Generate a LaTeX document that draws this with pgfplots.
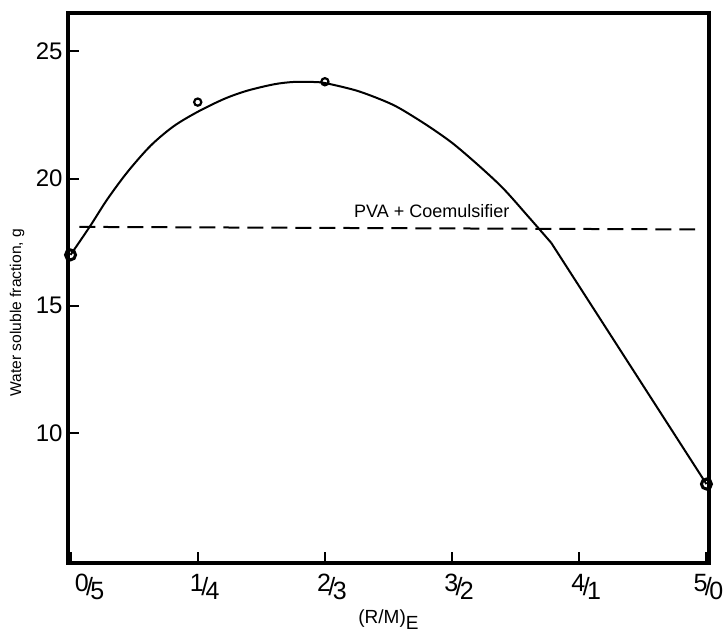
\documentclass[border=0pt]{standalone}
\usepackage{pgfplots}
\pgfplotsset{compat=1.18}
\usepackage{fontspec}
\setmainfont{Liberation Sans}

% ratio labels written as raised numerator / lowered denominator
\newcommand{\frc}[2]{\raisebox{2pt}{#1}\kern-1.3pt/\kern-1.3pt\raisebox{-2pt}{#2}}

\begin{document}
\begin{tikzpicture}
\begin{axis}[
  scale only axis,
  width=320.5pt, height=275pt,
  xmin=-0.02, xmax=5.02,
  ymin=4.9, ymax=26.5,
  clip=false,
  axis line style={line width=2.2pt},
  tick align=inside,
  xtick pos=left, ytick pos=left,
  major tick length=5.5pt,
  every tick/.style={black, line width=1pt},
  xtick={0,1,2,3,4,5},
  xticklabels={\hspace*{12pt}\frc05,\frc14,\frc23,\frc32,\frc41,\frc50\hspace*{5pt}},
  xticklabel style={font=\fontsize{12.5}{15}\selectfont, xshift=3.5pt, yshift=-2pt},
  ytick={10,15,20,25},
  /pgf/number format/assume math mode=true,
  yticklabel style={font=\fontsize{12}{14}\selectfont, inner sep=1pt, xshift=-1.5pt},
  xlabel={(R/M)\raisebox{-3pt}{E}},
  xlabel style={font=\fontsize{9.5}{11}\selectfont, at={(axis description cs:0.5,0)}, anchor=north, inner sep=0pt, yshift=-23pt},
  ylabel={Water soluble fraction, g},
  ylabel style={font=\fontsize{7.8}{10}\selectfont, at={(axis description cs:0,0.455)}, anchor=center, yshift=25.5pt},
]
% PVA + coemulsifier reference level
\addplot[black, line width=1pt, dash pattern=on 8pt off 4pt] coordinates {(0.07,18.1) (4.91,18.0)};
\node[anchor=base, font=\fontsize{9}{11}\selectfont] at (axis cs:2.84,18.45) {PVA + Coemulsifier};

% drawn trend curve
\addplot[black, line width=1pt, smooth, tension=0.5] coordinates {
  (0,17.0) (0.15,18.1) (0.29,19.19) (0.45,20.27) (0.63,21.29) (0.81,22.05)
  (1.00,22.62) (1.21,23.13) (1.39,23.45) (1.60,23.70) (1.75,23.79) (1.91,23.79)
  (2.01,23.74) (2.25,23.45) (2.46,23.06) (2.59,22.75) (2.80,22.10) (3.00,21.40)
  (3.20,20.55) (3.40,19.62) (3.60,18.50) (3.78,17.47)};
\addplot[black, line width=1pt] coordinates {(3.78,17.47) (5,8.0)};

% measured points
\addplot[only marks, mark=o, mark size=2.5pt, mark options={line width=1.5pt, fill=white}] coordinates {(0,17.0) (5,8.0)};
\addplot[only marks, mark=o, mark size=1.8pt, mark options={line width=1.1pt, fill=white}] coordinates {(1,23.0) (2,23.8)};
\end{axis}
\pgfresetboundingbox
\path (current axis.south west) ++(-34pt,-39.5pt) rectangle ([shift={(7.5pt,6.5pt)}]current axis.north east);
\end{tikzpicture}
\end{document}
